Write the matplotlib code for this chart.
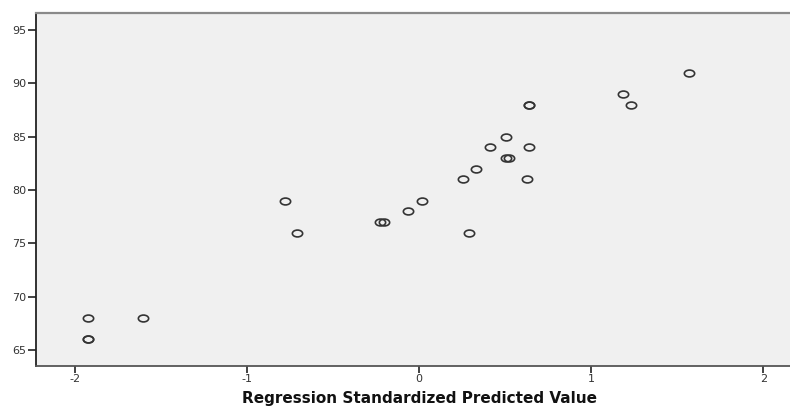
import numpy as np
import matplotlib
matplotlib.use("Agg")
import matplotlib.pyplot as plt
from matplotlib.path import Path

pred_std = [-1.923, -1.923, -1.923, -1.603, -0.777, -0.709, -0.225, -0.205,
            -0.064, 0.014, 0.252, 0.291, 0.328, 0.409, 0.504, 0.504, 0.523,
            0.624, 0.638, 0.638, 0.638, 1.187, 1.229, 1.570]
observed = [68, 66, 66, 68, 79, 76, 77, 77,
            78, 79, 81, 76, 82, 84, 85, 83, 83,
            81, 84, 88, 88, 89, 88, 91]
x_ticks = [-2, -1, 0, 1, 2]
y_ticks = [65, 70, 75, 80, 85, 90, 95]
x_label = "Regression Standardized Predicted Value"

plt.rcParams["axes.unicode_minus"] = False

# slightly wide ellipse marker, like the SPSS output
circ = Path.unit_circle()
ellipse = Path(circ.vertices * np.array([1.5, 1.0]), circ.codes)

fig = plt.figure(figsize=(7.9, 4.08), dpi=100)
ax = fig.add_axes([36 / 790, 1 - 366 / 408, 1 - 36 / 790, (366 - 13) / 408])
ax.set_facecolor("#f0f0f0")

ax.plot(pred_std, observed, linestyle="none", marker=ellipse, markersize=7.4,
        markerfacecolor="none", markeredgecolor="#333333", markeredgewidth=1.2)

ax.set_xlim(-2.227, 2.155)
ax.set_ylim(63.5, 96.6)
ax.set_xticks(x_ticks)
ax.set_yticks(y_ticks)

ax.spines["right"].set_visible(False)
ax.spines["top"].set_color("#8a8a8a")
ax.spines["top"].set_linewidth(1.6)
ax.spines["left"].set_color("#222222")
ax.spines["left"].set_linewidth(1.3)
ax.spines["bottom"].set_color("#555555")
ax.spines["bottom"].set_linewidth(1.3)

ax.tick_params(axis="both", direction="out", colors="#222222", labelcolor="#333333",
               labelsize=8, width=1.2)
ax.tick_params(axis="y", length=6, pad=1)
ax.tick_params(axis="x", length=5, pad=1)

fig.text(419 / 790, 2 / 408, x_label, ha="center", va="bottom",
         fontsize=11, fontweight="bold", color="#111111")

fig.savefig("out.png", dpi=100)
